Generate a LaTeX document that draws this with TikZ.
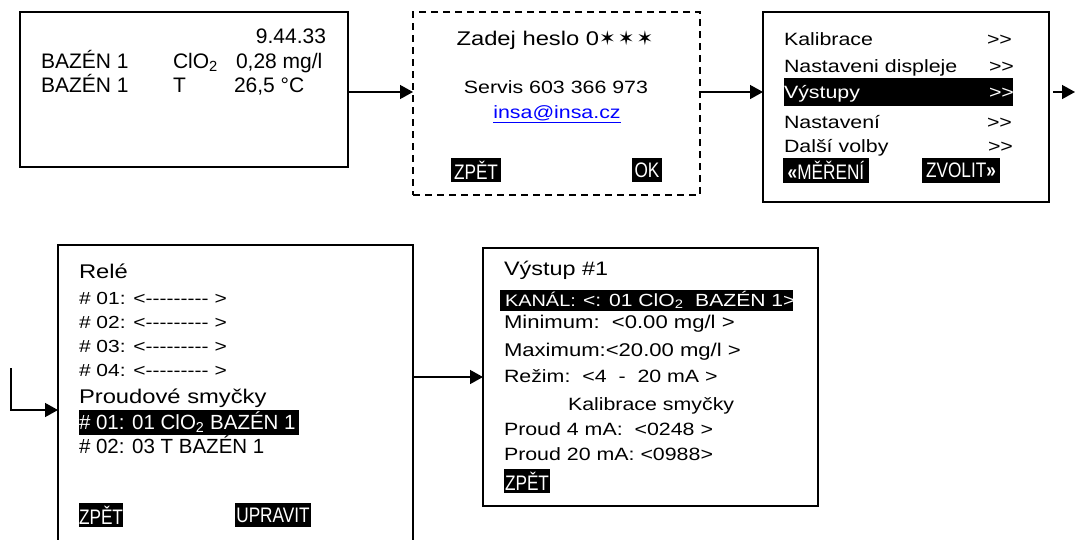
\documentclass[tikz,border=0pt]{standalone}
\usepackage{fontspec}
\setmainfont{Liberation Sans}
\newfontfamily\widefont[FakeStretch=1.2]{Liberation Sans}
\newfontfamily\narrowfont[FakeStretch=0.82]{Liberation Sans}
\newfontfamily\symfont{DejaVu Sans}
\usetikzlibrary{arrows.meta}

% plain hyphen / >> without the TeX ligatures
\newcommand\dsh{-\kern0pt}
\newcommand\dblgt{>\kern0pt>}
\newcommand\cloo{ClO\textsubscript{2}}

\tikzset{
  screen/.style={draw, line width=1.3pt, inner sep=0, outer sep=0},
  txt/.style={anchor=base west, inner sep=0, outer sep=0},
  inv/.style={txt, text=white},
  hlbox/.style={fill=black, anchor=north west, inner sep=0, outer sep=0},
  softkey/.style={hlbox, text=white, minimum height=24pt, font=\narrowfont\fontsize{21}{24}\selectfont},
  arr/.style={line width=1.4pt, -{Triangle[length=13pt,width=14pt]}},
  big/.style={font=\fontsize{21}{25}\selectfont},
  mid/.style={font=\fontsize{20.5}{24}\selectfont},
  wtitle/.style={font=\widefont\fontsize{19.8}{24}\selectfont},
  wbody/.style={font=\widefont\fontsize{17.8}{21}\selectfont},
}

\begin{document}
\begin{tikzpicture}[x=1pt,y=-1pt]
    \clip (0,0) rectangle (1075,539);

    % ================= SCREENS =================
    \node[screen, minimum width=328pt, minimum height=155pt] (meas) at (184,89.5) {};
    \node[screen, dash pattern=on 7pt off 5pt, minimum width=287pt, minimum height=183pt] (pass) at (556.5,103.5) {};
    \node[screen, minimum width=286pt, minimum height=190pt] (menu) at (906,107) {};
    \node[screen, minimum width=355pt, minimum height=315pt] (rele) at (235.5,402.5) {};
    \node[screen, minimum width=335pt, minimum height=258pt] (vyst) at (650.5,377) {};

    % ================= CONNECTORS =================
    \coordinate (r1) at (0,92);
    \coordinate (r2) at (0,410);
    \coordinate (r3) at (0,377);
    \coordinate (prev) at (11,368);
    \coordinate (next) at (1075,92);

    \draw[arr] (meas.east |- r1) -- (pass.west |- r1);
    \draw[arr] (pass.east |- r1) -- (menu.west |- r1);
    \draw[arr, shorten <=4pt] (menu.east |- r1) -- (next);
    \draw[arr] (prev) |- (rele.west |- r2);
    \draw[arr] (rele.east |- r3) -- (vyst.west |- r3);

    % ================= MEASUREMENT =================
    \node[txt, big, anchor=base east] (clock) at (326,43) {9.44.33};
    \node[txt, big] (pool1) at (41,68) {BAZÉN 1};
    \node[txt, big] (chan1) at (173,68) {\cloo};
    \node[txt, big] (val1) at (236,68) {0,28 mg/l};
    \node[txt, big] (pool2) at (41,92) {BAZÉN 1};
    \node[txt, big] (chan2) at (173,92) {T};
    \node[txt, big] (val2) at (234,92) {26,5 °C};

    % ================= PASSWORD =================
    \node[txt, wtitle, anchor=base] (heslo) at (555,45)
        {Zadej heslo 0{\symfont\fontsize{20}{24}\selectfont ✶\kern2pt✶\kern2pt✶}};
    \node[txt, wbody, anchor=base] (servis) at (556,93) {Servis 603 366 973};
    \node[txt, wbody, anchor=base, text=blue] (mail) at (557,118) {\underline{insa@insa.cz}};
    \node[softkey, minimum width=50pt] (back1) at (451,158) {ZPĚT};
    \node[softkey, minimum width=30pt] (ok) at (632,158) {OK};

    % ================= MENU =================
    \node[hlbox, minimum width=229pt, minimum height=28pt] (selout) at (784,78) {};
    \node[txt, wbody] (kal) at (784,45) {Kalibrace};
    \node[txt, wbody] (kalgo) at (987,45) {\dblgt};
    \node[txt, wbody] (disp) at (784,72) {Nastaveni displeje};
    \node[txt, wbody] (dispgo) at (989,72) {\dblgt};
    \node[inv, wbody] (outs) at (784,98) {Výstupy};
    \node[inv, wbody] (outsgo) at (989,98) {\dblgt};
    \node[txt, wbody] (sett) at (784,128) {Nastavení};
    \node[txt, wbody] (settgo) at (987,128) {\dblgt};
    \node[txt, wbody] (more) at (784,152) {Další volby};
    \node[txt, wbody] (morego) at (988,152) {\dblgt};
    \node[softkey, minimum width=86pt, minimum height=25pt] (tomeas) at (783,158) {\textbf{«}MĚŘENÍ};
    \node[softkey, minimum width=78pt, minimum height=25pt] (pick) at (922,158) {ZVOLIT\textbf{»}};

    % ================= RELAYS / LOOPS =================
    \node[txt, wtitle] (relhead) at (79,278) {Relé};
    \foreach \i/\y in {1/304,2/328,3/352,4/376}
        \node[txt, font=\widefont\fontsize{17.5}{21}\selectfont] (rel\i) at (79,\y)
            {\# 0\i: <\dsh\dsh\dsh\dsh\dsh\dsh\dsh\dsh\dsh\ >};
    \node[txt, wtitle] (loops) at (79,403) {Proudové smyčky};
    \node[hlbox, minimum width=220pt, minimum height=25pt] (selloop) at (79,410) {};
    \node[inv, mid] (loop1) at (79,429) {\# 01: 01 \cloo{} BAZÉN 1};
    \node[txt, mid] (loop2) at (79,453) {\# 02: 03 T BAZÉN 1};
    \node[softkey, minimum width=44pt] (back2) at (79,503) {ZPĚT};
    \node[softkey, minimum width=76pt] (edit) at (235,503) {UPRAVIT};

    % ================= OUTPUT 1 =================
    \node[txt, font=\widefont\fontsize{19.5}{24}\selectfont] (outhead) at (504,275) {Výstup \#1};
    \node[hlbox, minimum width=293pt, minimum height=21pt] (selchan) at (500,290) {};
    \node[inv, font=\widefont\fontsize{16.6}{21}\selectfont] (kanal) at (505,306) {KANÁL:};
    \node[inv, font=\widefont\fontsize{17.6}{21}\selectfont] (kanalval) at (583,306) {<: 01 \cloo\ \ BAZÉN 1>};
    \node[txt, font=\widefont\fontsize{18.4}{22}\selectfont] (minv) at (504,328) {Minimum:\ \ <0.00 mg/l >};
    \node[txt, font=\widefont\fontsize{18.4}{22}\selectfont] (maxv) at (504,356) {Maximum:<20.00 mg/l >};
    \node[txt, wbody] (mode) at (504,382) {Režim:\ \ <4\ \ \dsh\ \ 20 mA >};
    \node[txt, wbody] (calib) at (568,410) {Kalibrace smyčky};
    \node[txt, wbody] (cur4) at (504,435) {Proud 4 mA:\ \ <0248 >};
    \node[txt, wbody] (cur20) at (504,460) {Proud 20 mA: <0988>};
    \node[softkey, minimum width=46pt] (back3) at (504,469) {ZPĚT};
\end{tikzpicture}
\end{document}
